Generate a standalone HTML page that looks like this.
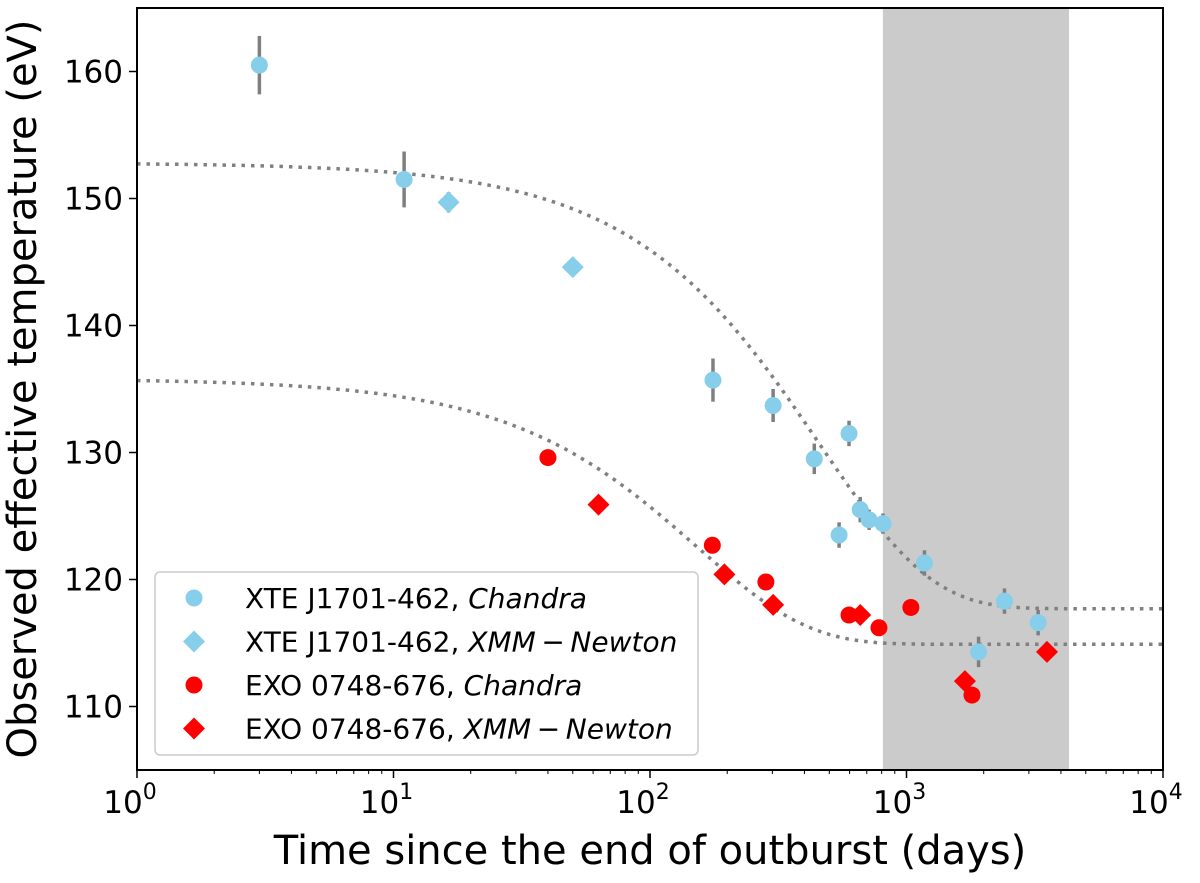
<!DOCTYPE html>
<html><head><meta charset="utf-8"><style>
body{margin:0;background:#fff}
svg{font-family:"DejaVu Sans","Liberation Sans",sans-serif}
</style></head><body>
<svg id="chart" width="1200" height="878"></svg>
<script>
const xteChT=[3.0,11,176,302,437,597,546,660,715,810,1175,1910,2410,3260];
const xteChV=[160.5,151.5,135.7,133.7,129.5,131.5,123.5,125.5,124.7,124.4,121.3,114.3,118.3,116.6];
const xteChE=[2.3,2.2,1.7,1.3,1.2,1.0,1.0,1.0,0.8,0.8,1.0,1.2,1.0,1.0];
const xteXmT=[16.4,50];
const xteXmV=[149.7,144.6];
const xteXmE=[0.8,0.6];
const exoChT=[40,175,283,597,781,1040,1800];
const exoChV=[129.6,122.7,119.8,117.2,116.2,117.8,110.9];
const exoXmT=[63,195,302,660,1690,3530];
const exoXmV=[125.9,120.4,118.0,117.2,112.0,114.3];
const fitXte=[117.7,35.1,460];
const fitExo=[114.9,20.9,152];
const shade=[809,4300];
const xTicks=[1,10,100,1000,10000];
const xTickLabels=[["10","0"],["10","1"],["10","2"],["10","3"],["10","4"]];
const yTicks=[110,120,130,140,150,160];

const NS="http://www.w3.org/2000/svg";
const svg=document.getElementById('chart');
const L=137,R=1163,T=8,B=770;
const X=t=>L+(Math.log10(t))/4*(R-L);
const Y=v=>B-(v-105)/60*(B-T);
function mk(tag,a,parent){const e=document.createElementNS(NS,tag);for(const k in a)e.setAttribute(k,a[k]);(parent||svg).appendChild(e);return e;}

let e=mk('rect',{x:X(shade[0]),y:T,width:X(shade[1])-X(shade[0]),height:B-T,fill:'#cbcbcb'});



function fit(p,name){let d='';for(let i=0;i<=400;i++){const lt=i/100;const t=Math.pow(10,lt);const v=p[0]+p[1]*Math.exp(-t/p[2]);d+=(i?'L':'M')+X(t).toFixed(1)+','+Y(v).toFixed(1);}
const el=mk('path',{d:d,fill:'none',stroke:'#808080','stroke-width':3.5,'stroke-dasharray':'3.5,6'});

}
fit(fitXte,'fit-curve-xte');fit(fitExo,'fit-curve-exo');

function err(ts,vs,es){ts.forEach((t,i)=>{const el=mk('line',{x1:X(t),x2:X(t),y1:Y(vs[i]-es[i]),y2:Y(vs[i]+es[i]),stroke:'#7f7f7f','stroke-width':3.5});

});}
err(xteChT,xteChV,xteChE);err(xteXmT,xteXmV,xteXmE);

function circ(cx,cy,c,parent){return mk('circle',{cx:cx,cy:cy,r:8.5,fill:c},parent);}
function diam(cx,cy,c,parent){const s=11;return mk('polygon',{points:`${cx},${cy-s} ${cx+s},${cy} ${cx},${cy+s} ${cx-s},${cy}`,fill:c},parent);}
xteChT.forEach((t,i)=>{const el=circ(X(t),Y(xteChV[i]),'#87ceeb');

});
xteXmT.forEach((t,i)=>{const el=diam(X(t),Y(xteXmV[i]),'#87ceeb');

});
exoChT.forEach((t,i)=>{const el=circ(X(t),Y(exoChV[i]),'#ff0000');

});
exoXmT.forEach((t,i)=>{const el=diam(X(t),Y(exoXmV[i]),'#ff0000');

});

e=mk('rect',{x:L,y:T,width:R-L,height:B-T,fill:'none',stroke:'#000','stroke-width':2});



xTicks.forEach((t,i)=>{mk('line',{x1:X(t),x2:X(t),y1:B,y2:B+8,stroke:'#000','stroke-width':1.5});
const tx=mk('text',{x:X(t)-7,y:B+43,'font-size':31,'text-anchor':'middle'});
tx.innerHTML=xTickLabels[i][0]+'<tspan dy="-14" font-size="22">'+xTickLabels[i][1]+'</tspan>';


if(i<4)for(let k=2;k<10;k++)mk('line',{x1:X(t*k),x2:X(t*k),y1:B,y2:B+4,stroke:'#000','stroke-width':1});});
yTicks.forEach(v=>{mk('line',{x1:L-8,x2:L,y1:Y(v),y2:Y(v),stroke:'#000','stroke-width':1.5});
const tx=mk('text',{x:L-14,y:Y(v)+11,'font-size':31,'text-anchor':'end'});tx.textContent=v;

});

e=mk('text',{x:(L+R)/2,y:864,'font-size':40,'text-anchor':'middle'});e.textContent='Time since the end of outburst (days)';


e=mk('text',{x:0,y:0,'font-size':40,'text-anchor':'middle',transform:`translate(36,${(T+B)/2}) rotate(-90)`});e.textContent='Observed effective temperature (eV)';



const lg=mk('g',{});


mk('rect',{x:155,y:572,width:543,height:183,rx:5,fill:'#fff','fill-opacity':0.8,stroke:'#ccc','stroke-width':1.5},lg);
const ent=[['c','#87ceeb','XTE J1701-462, ','Chandra'],['d','#87ceeb','XTE J1701-462, ','XMM\u2009\u2212\u2009Newton'],['c','#ff0000','EXO 0748-676, ','Chandra'],['d','#ff0000','EXO 0748-676, ','XMM\u2009\u2212\u2009Newton']];
ent.forEach((en,i)=>{const y=598+i*43.5;
const g=mk('g',{},lg);


if(en[0]=='c')circ(194,y,en[1],g);else diam(194,y,en[1],g);
const t=mk('text',{x:245,y:y+10,'font-size':28},g);
t.innerHTML=en[2]+'<tspan font-style="italic">'+en[3]+'</tspan>';});
</script>
</body></html>
